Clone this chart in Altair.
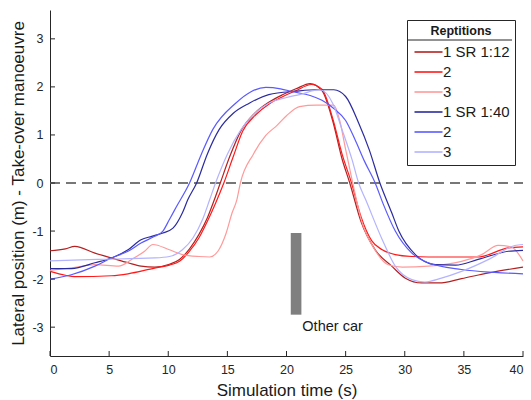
import json
import pandas as pd
import altair as alt

# ---------------- data ----------------
series_keys = ["r1", "r2", "r3", "b1", "b2", "b3"]
series_labels = ["1 SR 1:12", "2", "3", "1 SR 1:40", "2", "3"]
series_colors = ["#b52020", "#ff1a1a", "#ff9a9a", "#2b2ba0", "#5a5aff", "#b3b3ff"]

r1_x = [0, 1.3, 2.1, 3.8, 5.2, 6.6, 7.7, 8.85, 10.1, 10.95, 11.8, 12.6, 13.3, 13.85, 14.4, 15.2, 16.2, 17.3, 18.5, 19.7, 20.8, 22.0, 23.0, 23.9, 24.7, 25.35, 26.3, 27.5, 28.9, 30.05, 31.45, 32.9, 34.8, 37.1, 40]
r1_y = [-1.41, -1.37, -1.32, -1.46, -1.56, -1.66, -1.73, -1.75, -1.69, -1.59, -1.37, -1.07, -0.73, -0.38, 0, 0.55, 1.11, 1.45, 1.68, 1.84, 1.96, 2.07, 1.92, 1.3, 0.5, 0, -0.8, -1.39, -1.73, -1.98, -2.08, -2.08, -1.99, -1.87, -1.75]

r2_x = [0, 1.3, 2.1, 5.2, 6.6, 8.85, 10.1, 10.95, 11.8, 12.6, 13.3, 14.0, 14.7, 15.5, 16.3, 17.4, 18.5, 19.7, 20.8, 22.1, 23.0, 23.9, 24.7, 25.5, 26.3, 27.2, 28.1, 29.2, 30.6, 32.0, 36.2, 38.75, 40]
r2_y = [-1.84, -1.92, -1.95, -1.93, -1.89, -1.77, -1.71, -1.63, -1.42, -1.14, -0.8, -0.42, 0, 0.55, 1.08, 1.42, 1.64, 1.8, 1.92, 2.05, 1.95, 1.35, 0.6, 0, -0.7, -1.2, -1.39, -1.49, -1.53, -1.54, -1.54, -1.35, -1.33]

r3_x = [0, 2.0, 3.8, 5.8, 6.9, 8.0, 8.7, 10.1, 11.2, 12.6, 13.5, 14.2, 14.9, 15.4, 15.8, 16.1, 17.2, 18.25, 19.2, 20.0, 21.1, 22.5, 24.0, 24.5, 25.0, 25.6, 26.3, 27.5, 28.6, 29.8, 32.0, 34.8, 36.5, 37.9, 39.0, 40]
r3_y = [-1.82, -1.76, -1.70, -1.73, -1.59, -1.42, -1.28, -1.39, -1.49, -1.53, -1.54, -1.42, -1.04, -0.62, -0.35, 0, 0.6, 0.99, 1.2, 1.4, 1.59, 1.62, 1.62, 1.3, 0.7, 0, -0.75, -1.4, -1.7, -1.75, -1.73, -1.63, -1.49, -1.30, -1.33, -1.62]

b1_x = [0, 1.8, 3.8, 5.2, 6.6, 7.7, 8.6, 9.55, 10.4, 11.2, 11.65, 12.4, 13.3, 14.3, 15.5, 16.85, 18.5, 20.8, 22.5, 24.0, 25.0, 26.1, 27.0, 27.9, 28.9, 29.5, 30.9, 32.6, 34.3, 36.2, 38.75, 40]
b1_y = [-1.78, -1.78, -1.66, -1.56, -1.39, -1.18, -1.11, -1.04, -0.94, -0.62, -0.35, 0, 0.6, 1.11, 1.45, 1.66, 1.84, 1.91, 1.94, 1.94, 1.8, 1.25, 0.69, 0, -0.62, -1.0, -1.49, -1.7, -1.71, -1.59, -1.42, -1.4]

b2_x = [0, 1.8, 3.8, 5.2, 6.6, 7.7, 8.85, 9.55, 10.1, 10.7, 11.8, 12.8, 13.76, 15.7, 17.0, 18.25, 19.5, 20.5, 22.0, 23.0, 24.0, 25.0, 25.8, 26.6, 27.5, 28.2, 29.2, 30.6, 32.0, 34.8, 37.6, 40]
b2_y = [-2.0, -1.91, -1.73, -1.56, -1.42, -1.25, -1.11, -1.0, -0.76, -0.49, 0, 0.6, 1.11, 1.66, 1.9, 1.99, 1.96, 1.9, 1.82, 1.72, 1.55, 1.3, 0.9, 0.45, 0, -0.45, -1.0, -1.46, -1.66, -1.8, -1.86, -1.89]

b3_x = [0, 4, 8.85, 10.1, 11.2, 12.1, 12.9, 13.5, 14.0, 15.0, 16.15, 17.3, 18.5, 20.0, 21.1, 22.8, 23.9, 24.7, 25.55, 26.1, 26.7, 28.1, 29.2, 30.6, 31.7, 33.1, 34.8, 37.1, 39.3, 40]
b3_y = [-1.62, -1.59, -1.56, -1.53, -1.39, -1.14, -0.76, -0.35, 0, 0.6, 1.11, 1.45, 1.66, 1.78, 1.84, 1.94, 1.66, 1.11, 0.48, 0, -0.35, -1.18, -1.73, -2.01, -2.06, -1.98, -1.84, -1.59, -1.30, -1.28]

car_x = [20.36]
car_x2 = [21.26]
car_y = [-1.04]
car_y2 = [-2.74]
car_label = ["Other car"]
car_label_x = [21.34]
car_label_y = [-2.99]

x_ticks = [0, 5, 10, 15, 20, 25, 30, 35, 40]
y_ticks = [-3, -2, -1, 0, 1, 2, 3]
zero_line_x = [0, 40]
zero_line_y = [0, 0]

# ---------------- tables ----------------
xs = [r1_x, r2_x, r3_x, b1_x, b2_x, b3_x]
ys = [r1_y, r2_y, r3_y, b1_y, b2_y, b3_y]
rows = []
for k, xx, yy in zip(series_keys, xs, ys):
    for a, b in zip(xx, yy):
        rows.append({"series": k, "t": a, "pos": b})
df = pd.DataFrame(rows)

FONT = "Liberation Sans"
AX = "#262626"
W, H = 473, 346
XS = alt.Scale(domain=[0, 40], nice=False, zero=False)
YS = alt.Scale(domain=[-3.6, 3.6], nice=False, zero=False)

label_map = json.dumps(dict(zip(series_keys, series_labels))).replace('"', "'")

neg_expr = "datum.value < 0 ? '-' + abs(datum.value) : '' + datum.value"

zero_df = pd.DataFrame({"t": zero_line_x, "pos": zero_line_y})
zero_line = alt.Chart(zero_df).mark_line(
    color="#777777", strokeWidth=1.8, strokeDash=[10, 6]
).encode(
    x=alt.X("t:Q", scale=XS,
            axis=alt.Axis(title="Simulation time (s)", values=x_ticks, ticks=False,
                          labelExpr=neg_expr, grid=False, labelPadding=7,
                          titlePadding=7, titleFontSize=17, labelFontSize=12.5,
                          titleFontWeight="normal")),
    y=alt.Y("pos:Q", scale=YS,
            axis=alt.Axis(title="Lateral position (m) - Take-over manoeuvre", values=y_ticks,
                          ticks=False, labelExpr=neg_expr, grid=False, labelPadding=7,
                          titlePadding=4, titleFontSize=17, labelFontSize=12.5,
                          titleFontWeight="normal")),
)

car_df = pd.DataFrame({"x": car_x, "x2": car_x2, "y": car_y, "y2": car_y2})
car = alt.Chart(car_df).mark_rect(color="#7f7f7f").encode(
    x=alt.X("x:Q", scale=XS), x2="x2:Q", y=alt.Y("y:Q", scale=YS), y2="y2:Q"
)

car_text_df = pd.DataFrame({"x": car_label_x, "y": car_label_y, "label": car_label})
car_text = alt.Chart(car_text_df).mark_text(
    align="left", baseline="middle", font=FONT, fontSize=14.5, color="#1a1a1a"
).encode(x=alt.X("x:Q", scale=XS), y=alt.Y("y:Q", scale=YS), text="label:N")

lines = alt.Chart(df).mark_line(strokeWidth=1.2, interpolate="monotone").encode(
    x=alt.X("t:Q", scale=XS),
    y=alt.Y("pos:Q", scale=YS),
    color=alt.Color(
        "series:N",
        scale=alt.Scale(domain=series_keys, range=series_colors),
        legend=alt.Legend(
            title="Reptitions", orient="none", legendX=357, legendY=10,
            symbolType="M-2.8,0H2.8", symbolSize=100, symbolStrokeWidth=1.6,
            symbolOffset=9, labelOffset=7,
            labelFontSize=15, labelFont=FONT, labelColor="#1a1a1a",
            titleFontSize=12.5, titleFont=FONT, titleFontWeight="bold", titleColor="#1a1a1a",
            titleAnchor="middle", strokeColor="#262626", padding=5, rowPadding=4,
            titlePadding=7,
            labelExpr=label_map + "[datum.label]",
        ),
    ),
    detail="series:N",
)

xt_df = pd.DataFrame({"t": x_ticks})
x_tick_marks = alt.Chart(xt_df).mark_rule(color=AX, strokeWidth=1).encode(
    x=alt.X("t:Q", scale=XS), y=alt.value(H), y2=alt.value(H - 5)
)
yt_df = pd.DataFrame({"pos": y_ticks})
y_tick_marks = alt.Chart(yt_df).mark_rule(color=AX, strokeWidth=1).encode(
    y=alt.Y("pos:Q", scale=YS), x=alt.value(0), x2=alt.value(5)
)

sep = alt.Chart(pd.DataFrame({"a": [0]})).mark_rule(color="#262626", strokeWidth=1).encode(
    x=alt.value(357), x2=alt.value(462), y=alt.value(30)
)

chart = alt.layer(zero_line, car, car_text, lines, x_tick_marks, y_tick_marks, sep).properties(
    width=W, height=H,
    background="white",
    autosize=alt.AutoSizeParams(type="none"),
    padding={"left": 50, "top": 10, "right": 8, "bottom": 44},
).configure_view(stroke=None).configure_axis(
    domainColor=AX, labelColor=AX, titleColor="#1a1a1a", labelFont=FONT, titleFont=FONT,
    titleFontWeight="normal", domainWidth=1
)

chart.save("out.html", embed_options={"renderer": "svg", "actions": False})
